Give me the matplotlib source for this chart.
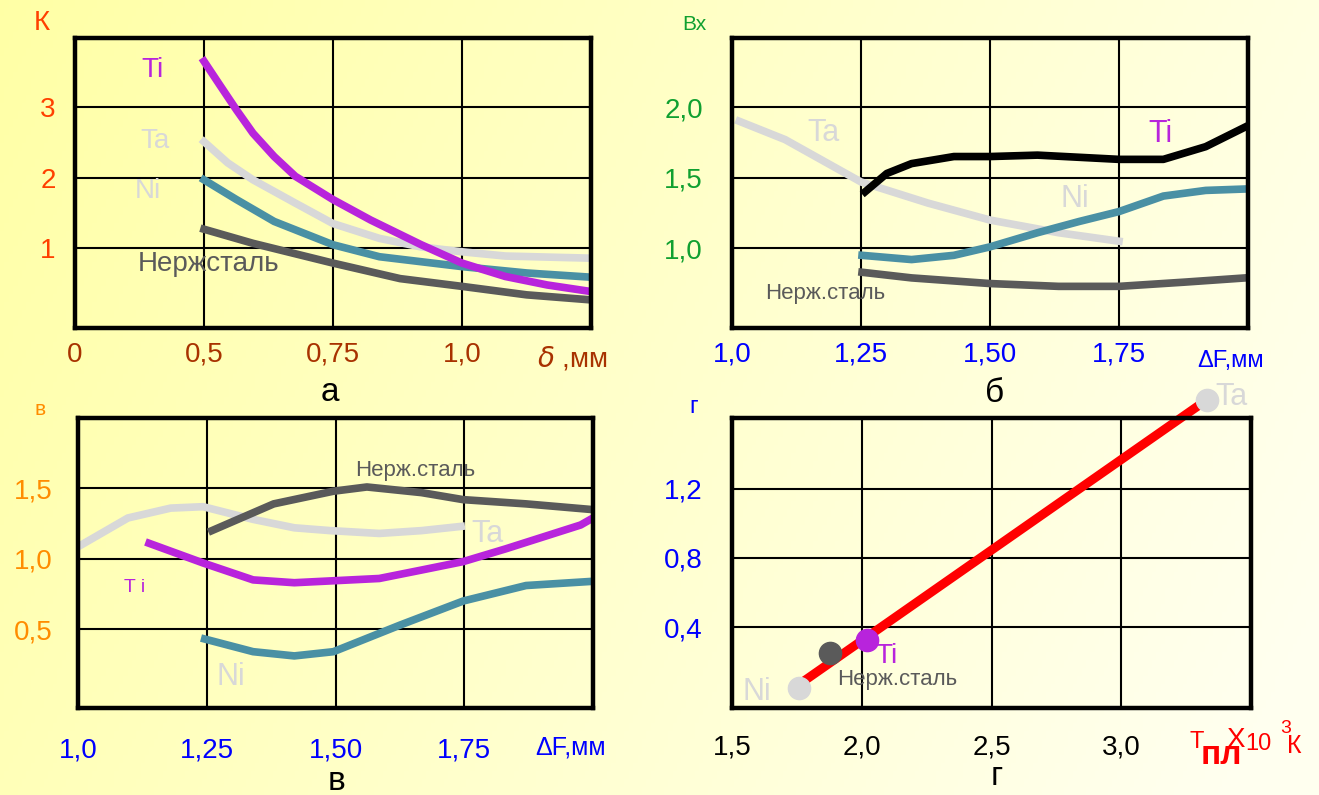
""" Four-panel chart: K, Bx, B and G vs thickness / melting point"""

import numpy as np
import matplotlib
matplotlib.use('Agg')
from matplotlib import pyplot as plt

W, H = 1319, 795

# panel a: K vs delta, mm
a_ti_x = [0.5, 0.53, 0.563, 0.595, 0.636, 0.677, 0.75, 0.823, 0.921, 1.0, 1.084, 1.165, 1.247]
a_ti_y = [3.65, 3.32, 2.96, 2.63, 2.30, 2.02, 1.69, 1.40, 1.05, 0.79, 0.60, 0.48, 0.39]
a_ta_x = [0.5, 0.546, 0.595, 0.677, 0.75, 0.84, 0.92, 1.0, 1.084, 1.247]
a_ta_y = [2.51, 2.21, 1.97, 1.64, 1.35, 1.14, 1.02, 0.95, 0.89, 0.86]
a_ni_x = [0.5, 0.563, 0.636, 0.75, 0.84, 1.0, 1.125, 1.25]
a_ni_y = [1.97, 1.69, 1.38, 1.05, 0.88, 0.74, 0.65, 0.59]
a_st_x = [0.5, 0.595, 0.75, 0.88, 1.0, 1.125, 1.247]
a_st_y = [1.27, 1.07, 0.79, 0.57, 0.46, 0.34, 0.27]

# panel b: Bx vs dF, mm
b_ta_x = [1.014, 1.103, 1.25, 1.38, 1.5, 1.633, 1.75]
b_ta_y = [1.90, 1.77, 1.47, 1.32, 1.20, 1.11, 1.05]
b_ti_x = [1.258, 1.30, 1.348, 1.43, 1.5, 1.592, 1.75, 1.836, 1.918, 1.995]
b_ti_y = [1.40, 1.53, 1.60, 1.65, 1.65, 1.66, 1.63, 1.63, 1.72, 1.86]
b_ni_x = [1.252, 1.348, 1.43, 1.5, 1.592, 1.673, 1.75, 1.836, 1.918, 1.995]
b_ni_y = [0.95, 0.92, 0.95, 1.01, 1.11, 1.19, 1.26, 1.37, 1.41, 1.42]
b_st_x = [1.252, 1.348, 1.5, 1.633, 1.75, 1.877, 1.995]
b_st_y = [0.83, 0.79, 0.75, 0.73, 0.73, 0.76, 0.79]

# panel v: B vs dF, mm
v_ta_x = [1.007, 1.097, 1.18, 1.243, 1.34, 1.42, 1.49, 1.585, 1.667, 1.744]
v_ta_y = [1.10, 1.29, 1.36, 1.37, 1.28, 1.22, 1.20, 1.18, 1.20, 1.23]
v_st_x = [1.26, 1.38, 1.496, 1.561, 1.667, 1.748, 1.87, 1.997]
v_st_y = [1.20, 1.39, 1.48, 1.51, 1.47, 1.42, 1.39, 1.35]
v_ti_x = [1.138, 1.243, 1.34, 1.42, 1.585, 1.667, 1.748, 1.83, 1.976, 2.0]
v_ti_y = [1.11, 0.97, 0.85, 0.83, 0.86, 0.92, 0.98, 1.07, 1.24, 1.29]
v_ni_x = [1.246, 1.34, 1.42, 1.496, 1.626, 1.748, 1.87, 2.0]
v_ni_y = [0.43, 0.34, 0.31, 0.34, 0.53, 0.70, 0.81, 0.84]

# panel g: G vs melting point, x10^3 K
g_names = ['Ni', 'Нерж.сталь', 'Ti', 'Ta']
g_tm = [1.76, 1.877, 2.02, 3.33]
g_val = [0.05, 0.255, 0.325, 1.71]
g_fit_tm = [1.773, 3.31]
g_fit_val = [0.087, 1.69]

C_TI = '#B824DC'
C_TA = '#D8D8D8'
C_NI = '#4A90A4'
C_ST = '#5A5A5A'
FONT = 'Liberation Sans'

plt.rcParams['font.family'] = [FONT, 'DejaVu Sans']

fig = plt.figure(figsize=(W / 100., H / 100.), dpi=100)

# background gradient
bg = fig.add_axes([0, 0, 1, 1], zorder=-10)
gx, gy = np.meshgrid(np.linspace(0, 1, 300), np.linspace(0, 1, 100))
t = np.clip(0.8 * gx + 0.25 * gy, 0, 1)[..., None]
c0 = np.array([1.0, 1.0, 0.65])
c1 = np.array([1.0, 1.0, 0.94])
bg.imshow(c0 * (1 - t) + c1 * t, aspect='auto', extent=(0, 1, 0, 1))
bg.axis('off')


def put(px, py, s, color, size, **kw):
    """Place text by pixel position (center, baseline)"""
    kw.setdefault('ha', 'center')
    fig.text(px / W, 1 - py / H, s, color=color, fontsize=size, va='baseline', **kw)


def make_ax(x0, y0, x1, y1):
    ax = fig.add_axes([x0 / W, 1 - y1 / H, (x1 - x0) / W, (y1 - y0) / H])
    ax.set_facecolor('none')
    for sp in ax.spines.values():
        sp.set_linewidth(3.2)
        sp.set_color('black')
    ax.grid(True, color='black', lw=1.5)
    ax.set_axisbelow(True)
    ax.tick_params(length=0)
    return ax


def style_ticks(ax, xcol, ycol, xpad, ypad, size=20):
    ax.tick_params(axis='x', colors=xcol, labelsize=size, pad=xpad)
    ax.tick_params(axis='y', colors=ycol, labelsize=size, pad=ypad)


LW = 5.5

# ---- а
ax = make_ax(75, 38, 591, 328)
ax.plot(a_st_x, a_st_y, color=C_ST, lw=LW)
ax.plot(a_ni_x, a_ni_y, color=C_NI, lw=LW)
ax.plot(a_ta_x, a_ta_y, color=C_TA, lw=LW)
ax.plot(a_ti_x, a_ti_y, color=C_TI, lw=LW)
ax.set_xlim(0.25, 1.25)
ax.set_ylim(-0.13, 3.98)
ax.set_xticks([0.25, 0.5, 0.75, 1.0], ['0', '0,5', '0,75', '1,0'])
ax.set_yticks([1, 2, 3], ['1', '2', '3'])
style_ticks(ax, '#A83200', '#FF4000', 10, 14)
put(42, 30, 'К', '#FF4000', 20)
put(572, 366, r'$\delta$ ,мм', '#A83200', 20)
put(152, 77, 'Ti', C_TI, 20)
put(155, 148, 'Ta', C_TA, 20)
put(148, 198, 'Ni', C_TA, 20)
put(209, 271, 'Нержсталь', C_ST, 20)
put(330, 401, 'а', 'black', 24)

# ---- б
ax = make_ax(732, 38, 1248, 328)
ax.plot(b_st_x, b_st_y, color=C_ST, lw=LW)
ax.plot(b_ta_x, b_ta_y, color=C_TA, lw=LW)
ax.plot(b_ni_x, b_ni_y, color=C_NI, lw=LW)
ax.plot(b_ti_x, b_ti_y, color='black', lw=LW)
ax.set_xlim(1.0, 2.0)
ax.set_ylim(0.435, 2.49)
ax.set_xticks([1.0, 1.25, 1.5, 1.75], ['1,0', '1,25', '1,50', '1,75'])
ax.set_yticks([1.0, 1.5, 2.0], ['1,0', '1,5', '2,0'])
style_ticks(ax, '#0000FF', '#10A030', 10, 21)
put(694, 30, 'Вх', '#10A030', 15)
put(1231, 367, 'ΔF,мм', '#0000FF', 17)
put(824, 141, 'Ta', C_TA, 22)
put(1160, 142, 'Ti', C_TI, 22)
put(1075, 207, 'Ni', C_TA, 22)
put(825, 299, 'Нерж.сталь', C_ST, 16)
put(995, 402, 'б', 'black', 24)

# ---- в
ax = make_ax(78, 418, 593, 708)
ax.plot(v_ta_x, v_ta_y, color=C_TA, lw=LW)
ax.plot(v_st_x, v_st_y, color=C_ST, lw=LW)
ax.plot(v_ti_x, v_ti_y, color=C_TI, lw=LW)
ax.plot(v_ni_x, v_ni_y, color=C_NI, lw=LW)
ax.set_xlim(1.0, 2.0)
ax.set_ylim(-0.06, 2.0)
ax.set_xticks([1.0, 1.25, 1.5, 1.75], ['1,0', '1,25', '1,50', '1,75'])
ax.set_yticks([0.5, 1.0, 1.5], ['0,5', '1,0', '1,5'])
style_ticks(ax, '#0000FF', '#FF8C00', 21, 18)
put(40, 415, 'в', '#FF8C00', 15)
put(571, 755, 'ΔF,мм', '#0000FF', 18)
put(415, 476, 'Нерж.сталь', C_ST, 16)
put(487, 542, 'Ta', C_TA, 22)
put(135, 592, 'T i', C_TI, 14)
put(231, 685, 'Ni', C_TA, 22)
put(337, 790, 'в', 'black', 24)

# ---- г
ax = make_ax(732, 418, 1251, 708)
ax.plot(g_fit_tm, g_fit_val, color='#FF0000', lw=6.5, solid_capstyle='butt',
        clip_on=False)
g_cols = [C_TA, C_ST, C_TI, C_TA]
for tm, val, col in zip(g_tm, g_val, g_cols):
    ax.plot(tm, val, 'o', color=col, ms=16, clip_on=False, zorder=5)
ax.set_xlim(1.5, 3.5)
ax.set_ylim(-0.064, 1.606)
ax.set_xticks([1.5, 2.0, 2.5, 3.0], ['1,5', '2,0', '2,5', '3,0'])
ax.set_yticks([0.4, 0.8, 1.2], ['0,4', '0,8', '1,2'])
style_ticks(ax, 'black', '#0000FF', 19, 21)
put(694, 413, 'г', '#0000FF', 17)
put(757, 700, g_names[0], C_TA, 22)
put(897, 685, g_names[1], C_ST, 16)
put(887, 663, g_names[2], C_TI, 20)
put(1232, 405, g_names[3], C_TA, 22)
put(997, 785, 'г', 'black', 24)
# axis unit: T_pl x10^3 K
put(1197, 748, 'Т', '#FF0000', 17)
put(1221, 764, 'пл', '#FF0000', 24, weight='bold')
put(1236, 747, 'Х', '#FF0000', 20)
put(1258, 750, '10', '#FF0000', 17)
put(1286, 733, '3', '#FF0000', 14)
put(1294, 753, 'К', '#FF0000', 18)

fig.savefig('out.png', dpi=100)
